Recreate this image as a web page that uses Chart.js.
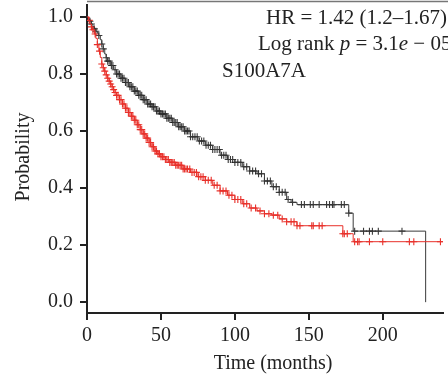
<!DOCTYPE html>
<html>
<head>
<meta charset="utf-8">
<script src="https://cdn.jsdelivr.net/npm/chart.js@4/dist/chart.umd.min.js"></script>
<style>
  html, body { margin: 0; padding: 0; background: #fff; overflow: hidden; }
  #km { display: block; }
</style>
</head>
<body>
<canvas id="km" width="448" height="386"></canvas>
<script>
// Kaplan-Meier steps (time in months, survival probability)
const blackTime = [0, 1, 2, 3, 4, 5, 6, 7, 8, 9, 10, 11, 12, 13, 14, 16, 18, 20, 23, 26, 29, 32, 35, 38, 41, 44, 47, 50, 54, 58, 62, 66, 70, 75, 80, 85, 90, 95, 100, 105, 110, 115, 120, 125, 130, 135, 138, 142, 177, 180, 229];
const blackSurv = [1.0, 0.992, 0.985, 0.975, 0.965, 0.958, 0.95, 0.943, 0.935, 0.92, 0.905, 0.888, 0.87, 0.857, 0.845, 0.83, 0.815, 0.8, 0.785, 0.77, 0.755, 0.74, 0.725, 0.71, 0.695, 0.685, 0.67, 0.66, 0.645, 0.63, 0.615, 0.6, 0.58, 0.565, 0.55, 0.535, 0.515, 0.5, 0.49, 0.475, 0.46, 0.45, 0.425, 0.405, 0.385, 0.36, 0.35, 0.342, 0.312, 0.249, 0.0];

const redTime = [0, 1, 2, 3, 4, 5, 6, 7, 8, 9, 10, 11, 12, 13, 14, 15, 16, 17, 18, 19, 20, 22, 24, 26, 28, 30, 32, 34, 36, 38, 40, 42, 44, 46, 48, 50, 53, 56, 60, 65, 70, 75, 80, 85, 90, 95, 100, 105, 110, 115, 120, 125, 130, 135, 142, 173, 180, 245];
const redSurv = [1.0, 0.988, 0.975, 0.965, 0.955, 0.94, 0.925, 0.903, 0.88, 0.858, 0.835, 0.822, 0.81, 0.797, 0.785, 0.775, 0.765, 0.755, 0.745, 0.735, 0.725, 0.71, 0.695, 0.68, 0.665, 0.652, 0.638, 0.622, 0.605, 0.59, 0.575, 0.56, 0.545, 0.53, 0.52, 0.51, 0.5, 0.49, 0.48, 0.467, 0.455, 0.44, 0.427, 0.41, 0.39, 0.375, 0.36, 0.345, 0.33, 0.32, 0.31, 0.305, 0.292, 0.282, 0.268, 0.24, 0.212, 0.212];

// censored observations (months)
const blackCensor = [2, 3, 5, 6, 8, 10, 11, 13, 14, 15, 16.5, 17.5, 19, 20, 21, 22, 23, 24, 25, 26, 27, 28, 29, 30, 31, 32, 33, 34, 35, 36, 37, 38, 39, 40, 41, 42, 43, 44, 45, 46, 47, 48, 49, 50, 51, 52, 53, 54, 55, 56, 57, 58, 59, 60, 61, 62, 63, 64, 65, 66, 67, 68, 69, 70, 71.5, 73, 74.5, 76, 77.5, 79, 80.5, 82, 83.5, 85, 86.5, 88, 89.5, 91, 92.5, 94, 95.5, 97, 98.5, 100, 102, 104, 106, 108, 110, 112, 114, 116, 118, 120, 122, 124, 126, 128, 130, 132, 134, 136, 139, 145, 147, 151, 153, 157, 162, 164, 166, 167, 172, 174, 177, 181, 187, 191, 193, 197, 213];
const redCensor = [1.5, 3, 4, 5.5, 7, 8.5, 10, 11, 12, 13, 14, 15, 16, 17, 18, 19, 20, 21, 22, 23, 24, 25, 26, 27, 28, 29, 30, 31, 32, 33, 34, 35, 36, 37, 38, 39, 40, 41, 42, 43, 44, 45, 46, 47, 48, 49, 50, 51, 52, 53, 54, 55, 56, 57, 58, 59, 60, 61, 62, 63, 64, 65, 66, 67, 68, 69.5, 71, 72.5, 74, 75.5, 77, 78.5, 80, 82, 84, 86, 88, 90, 92, 94, 96, 98, 100, 102, 104, 106, 108, 111, 114, 117, 120, 123, 126, 129, 132, 135, 138, 140, 142, 144, 152, 153, 157, 159, 173, 174, 176, 181, 183, 184, 191, 200, 218, 221, 239];

const xTicks = [0, 50, 100, 150, 200];
const yTicks = [0.0, 0.2, 0.4, 0.6, 0.8, 1.0];

const SERIF = "'Liberation Serif', 'DejaVu Serif', serif";
const AXIS = "#222";
const BLACK = "#3a3a3a";
const RED = "#e8302a";

function steps(times, surv) {
    return times.map((t, i) => ({ x: t, y: surv[i] }));
}

// survival at a censor time = last step at or before it
function marks(censor, times, surv) {
    return censor.map((t) => {
        let v = surv[0];
        for (let i = 0; i < times.length; i++) {
            if (times[i] <= t) v = surv[i];
        }
        return { x: t, y: v };
    });
}

const textPlugin = {
    id: "kmText",
    afterDraw(chart) {
        const ctx = chart.ctx;
        const area = chart.chartArea;
        ctx.save();

        // top frame line
        ctx.strokeStyle = "#777";
        ctx.lineWidth = 1.5;
        ctx.beginPath();
        ctx.moveTo(area.left, 1.5);
        ctx.lineTo(chart.width, 1.5);
        ctx.stroke();

        ctx.fillStyle = AXIS;
        ctx.textBaseline = "alphabetic";
        ctx.textAlign = "left";

        const normal = "21px " + SERIF;
        const italic = "italic 21px " + SERIF;

        ctx.font = normal;
        ctx.fillText("HR = 1.42 (1.2\u20131.67)", 266, 24);

        // Log rank line with italic p and e
        const parts = [
            ["Log rank ", normal],
            ["p", italic],
            [" = 3.1", normal],
            ["e", italic],
            [" \u2212 05", normal],
        ];
        let x = 258;
        parts.forEach(([s, f]) => {
            ctx.font = f;
            ctx.fillText(s, x, 50);
            x += ctx.measureText(s).width;
        });

        ctx.font = normal;
        ctx.fillText("S100A7A", 222, 77);

        // axis titles
        ctx.font = "20px " + SERIF;
        ctx.textAlign = "center";
        ctx.textBaseline = "middle";
        ctx.fillText("Time (months)", 273, 364);

        ctx.translate(24, 157);
        ctx.rotate(-Math.PI / 2);
        ctx.fillText("Probability", 0, 0);

        ctx.restore();
    },
};

const ctx = document.getElementById("km").getContext("2d");

new Chart(ctx, {
    type: "scatter",
    data: {
        datasets: [
            {
                label: "High",
                type: "line",
                data: steps(redTime, redSurv),
                stepped: "before",
                borderColor: RED,
                borderWidth: 1,
                pointRadius: 0,
                fill: false,
            },
            {
                label: "Low",
                type: "line",
                data: steps(blackTime, blackSurv),
                stepped: "before",
                borderColor: BLACK,
                borderWidth: 1,
                pointRadius: 0,
                fill: false,
            },
            {
                label: "High censored",
                data: marks(redCensor, redTime, redSurv),
                pointStyle: "cross",
                pointRadius: 3.5,
                borderColor: RED,
                borderWidth: 1.1,
                backgroundColor: RED,
            },
            {
                label: "Low censored",
                data: marks(blackCensor, blackTime, blackSurv),
                pointStyle: "cross",
                pointRadius: 3.5,
                borderColor: "rgba(25,25,25,0.85)",
                borderWidth: 1.1,
                backgroundColor: BLACK,
            },
        ],
    },
    options: {
        responsive: false,
        animation: false,
        events: [],
        layout: {
            padding: { top: 1, right: 0, left: 0, bottom: 0 },
        },
        plugins: {
            legend: { display: false },
            tooltip: { enabled: false },
        },
        scales: {
            x: {
                type: "linear",
                min: 0,
                max: 240.67,
                afterBuildTicks: (scale) => {
                    scale.ticks = xTicks.map((v) => ({ value: v }));
                },
                afterFit: (scale) => {
                    scale.height = 73;
                    scale.paddingLeft = 0;
                    scale.paddingRight = 0;
                },
                ticks: {
                    color: AXIS,
                    padding: 4,
                    maxRotation: 0,
                    font: { family: SERIF, size: 20 },
                },
                grid: {
                    display: true,
                    drawOnChartArea: false,
                    drawTicks: true,
                    tickLength: 7,
                    color: AXIS,
                    lineWidth: 2,
                },
                border: { display: true, color: AXIS, width: 2 },
            },
            y: {
                type: "linear",
                min: -0.038,
                max: 1.0415,
                afterBuildTicks: (scale) => {
                    scale.ticks = yTicks.map((v) => ({ value: v }));
                },
                afterFit: (scale) => {
                    scale.width = 87;
                    scale.paddingTop = 0;
                    scale.paddingBottom = 0;
                },
                ticks: {
                    color: AXIS,
                    padding: 7,
                    font: { family: SERIF, size: 20 },
                    callback: (v) => v.toFixed(1),
                },
                grid: {
                    display: true,
                    drawOnChartArea: false,
                    drawTicks: true,
                    tickLength: 7,
                    color: AXIS,
                    lineWidth: 2,
                },
                border: { display: true, color: AXIS, width: 2 },
            },
        },
    },
    plugins: [textPlugin],
});
</script>
</body>
</html>
